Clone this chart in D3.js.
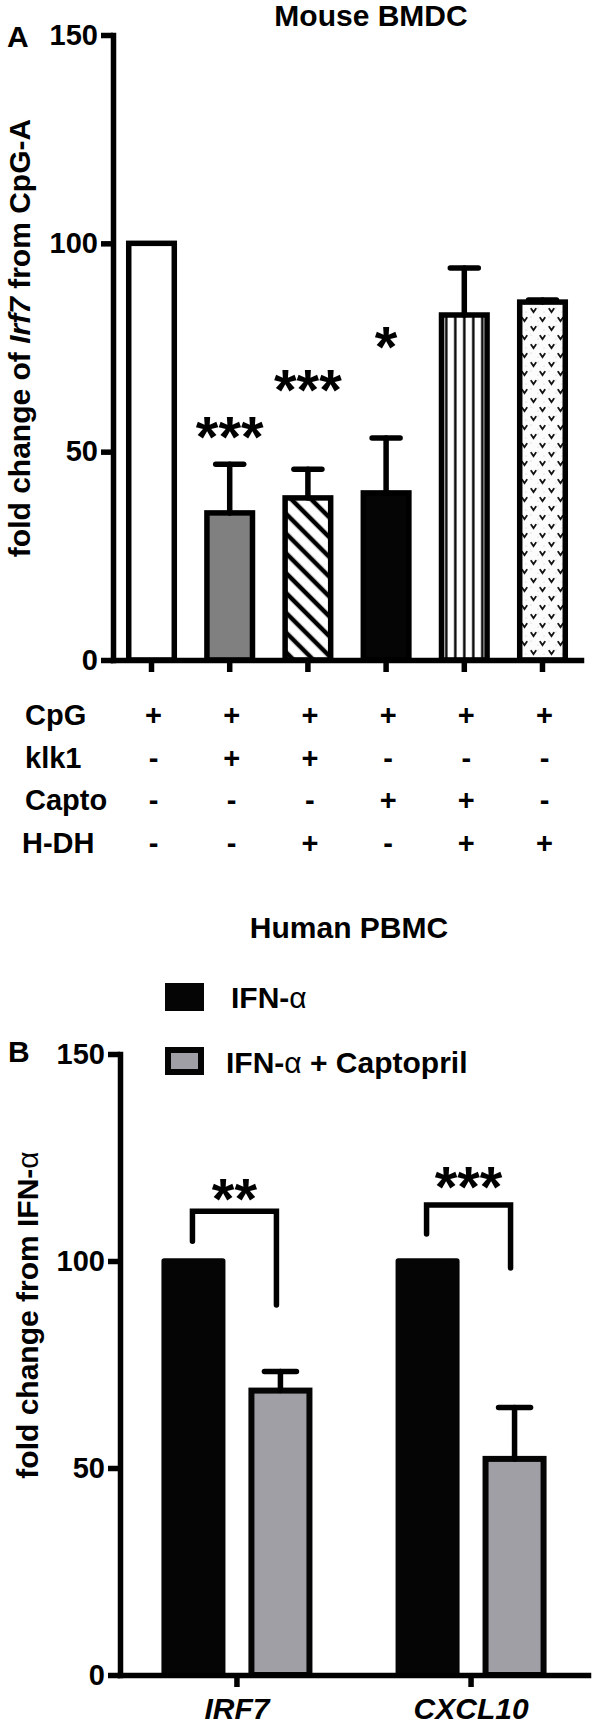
<!DOCTYPE html>
<html>
<head>
<meta charset="utf-8">
<script src="https://cdn.jsdelivr.net/npm/d3@7"></script>
<style>
body { margin: 0; background: #fff; }
svg { display: block; font-family: "Liberation Sans", Arial, sans-serif; font-weight: bold; }
</style>
</head>
<body>
<svg id="chart"></svg>
<script>
// panel A: mouse BMDC
let conditionsA = ["CpG", "CpG+klk1", "CpG+klk1+H-DH", "CpG+Capto", "CpG+Capto+H-DH", "CpG+H-DH"];
let meansA = [100, 35.3, 38.9, 40.1, 82.8, 85.9];
let semA = [0, 11.7, 6.9, 13.2, 11.3, 0.5];
let starsA = ["", "***", "***", "*", "", ""];
let starLevelA = [0, 56.4, 67.7, 78, 0, 0];
let ticksA = [0, 50, 100, 150];
let rowLabels = ["CpG", "klk1", "Capto", "H-DH"];
let tableSigns = [
    ["+", "+", "+", "+", "+", "+"],
    ["-", "+", "+", "-", "-", "-"],
    ["-", "-", "-", "+", "+", "-"],
    ["-", "-", "+", "-", "+", "+"]
];

// panel B: human PBMC
let genes = ["IRF7", "CXCL10"];
let groupsB = ["IFN-α", "IFN-α + Captopril"];
let ifnMeans = [100, 100];
let captoMeans = [68.7, 52.2];
let captoSem = [4.6, 12.4];
let ticksB = [0, 50, 100, 150];
let bracketTop = [112, 113.5];
let bracketLeft = [104.8, 106.5];
let bracketRight = [89.4, 98.3];
let starsB = ["**", "***"];
let starLevelB = [118, 120.8];

let width = 592;
let height = 1726;
let sw = 5.5;
let starSize = 58;
let svg = d3.select("#chart").attr("width", width).attr("height", height);
let defs = svg.append("defs");

let fillsA = ["#ffffff", "#808080", "url(#hatchDiag)", "#050505", "url(#hatchVert)", "url(#dotsV)"];

let xA, yA, xB0, xB1, yB;

let generateScales = () => {
    xA = d3.scaleBand().domain(conditionsA).range([113, 581]).paddingInner(0.347).paddingOuter(0.166);
    yA = d3.scaleLinear().domain([0, 150]).range([660, 35]);
    xB0 = d3.scaleBand().domain(genes).range([120, 588]).paddingInner(0.355).paddingOuter(0.177);
    xB1 = d3.scaleBand().domain(groupsB).range([0, xB0.bandwidth()]).paddingInner(0.264);
    yB = d3.scaleLinear().domain([0, 150]).range([1675, 1054]);
}

let drawPatterns = () => {
    let diag = defs.append("pattern").attr("id", "hatchDiag")
        .attr("patternUnits", "userSpaceOnUse").attr("width", 14).attr("height", 14)
        .attr("patternTransform", "rotate(-45)");
    diag.append("rect").attr("width", 14).attr("height", 14).attr("fill", "#fff");
    diag.append("line").attr("x1", 7).attr("x2", 7).attr("y1", -1).attr("y2", 15)
        .attr("stroke", "#000").attr("stroke-width", 4.5);

    let cx5 = xA(conditionsA[4]) + xA.bandwidth() / 2;
    let vert = defs.append("pattern").attr("id", "hatchVert")
        .attr("patternUnits", "userSpaceOnUse").attr("x", cx5 - 4.5).attr("width", 9).attr("height", 10);
    vert.append("rect").attr("width", 9).attr("height", 10).attr("fill", "#fff");
    vert.append("line").attr("x1", 4.5).attr("x2", 4.5).attr("y1", -1).attr("y2", 11)
        .attr("stroke", "#000").attr("stroke-width", 2.4);

    let cx6 = xA(conditionsA[5]) + xA.bandwidth() / 2;
    let dots = defs.append("pattern").attr("id", "dotsV")
        .attr("patternUnits", "userSpaceOnUse").attr("x", cx6 - 13.5).attr("width", 18).attr("height", 18);
    dots.append("rect").attr("width", 18).attr("height", 18).attr("fill", "#fcfcfc");
    [[4.5, 4.5], [13.5, 13.5]].forEach(p => {
        dots.append("path")
            .attr("d", `M${p[0] - 2.3},${p[1] - 1.7}L${p[0]},${p[1] + 1.7}L${p[0] + 2.3},${p[1] - 1.7}`)
            .attr("fill", "none").attr("stroke", "#111").attr("stroke-width", 1.8)
            .attr("stroke-linecap", "round");
    });
    [[9, 2], [2, 11], [15, 6], [9, 15]].forEach(p => {
        dots.append("circle").attr("cx", p[0]).attr("cy", p[1]).attr("r", 0.6).attr("fill", "#c4c4c4");
    });
}

let styleAxis = (g, fontSize) => {
    g.select(".domain").attr("stroke-width", sw).attr("stroke-linecap", "square");
    g.selectAll(".tick line").attr("stroke-width", sw);
    g.selectAll(".tick text").attr("font-size", fontSize).attr("fill", "#000")
        .attr("font-family", "Liberation Sans, Arial, sans-serif").attr("font-weight", "bold");
}

let drawPanelA = () => {
    svg.append("text").attr("x", 371).attr("y", 26).attr("text-anchor", "middle")
        .attr("font-size", 30).text("Mouse BMDC");
    svg.append("text").attr("x", 7).attr("y", 47).attr("font-size", 30).text("A");

    let bw = xA.bandwidth();
    svg.append("g").selectAll("rect").data(conditionsA).join("rect")
        .attr("x", d => xA(d) + sw / 2)
        .attr("width", bw - sw)
        .attr("y", (d, i) => yA(meansA[i]))
        .attr("height", (d, i) => yA(0) - yA(meansA[i]))
        .attr("fill", (d, i) => fillsA[i])
        .attr("stroke", "#000").attr("stroke-width", sw);

    let err = svg.append("g").attr("stroke", "#000").attr("stroke-width", sw).attr("stroke-linecap", "round");
    conditionsA.forEach((d, i) => {
        if (semA[i] <= 0) return;
        let cx = xA(d) + bw / 2;
        err.append("line").attr("x1", cx).attr("x2", cx)
            .attr("y1", yA(meansA[i])).attr("y2", yA(meansA[i] + semA[i]));
        err.append("line").attr("x1", cx - 14).attr("x2", cx + 14)
            .attr("y1", yA(meansA[i] + semA[i])).attr("y2", yA(meansA[i] + semA[i]));
    });

    svg.append("g").selectAll("text").data(conditionsA).join("text")
        .attr("x", d => xA(d) + bw / 2)
        .attr("y", (d, i) => yA(starLevelA[i]) + starSize * 0.56)
        .attr("text-anchor", "middle").attr("font-size", starSize)
        .text((d, i) => starsA[i]);

    let yAxis = d3.axisLeft(yA).tickValues(ticksA).tickSize(12).tickSizeOuter(0).tickPadding(3);
    svg.append("g").attr("transform", "translate(113,0)").call(yAxis).call(g => styleAxis(g, 29));

    let xAxis = d3.axisBottom(xA).tickSize(12).tickSizeOuter(0).tickFormat("");
    svg.append("g").attr("transform", "translate(0,660)").call(xAxis).call(g => styleAxis(g, 29));

    let lab = svg.append("text").attr("transform", "translate(30,338) rotate(-90)")
        .attr("text-anchor", "middle").attr("font-size", 30);
    lab.append("tspan").text("fold change of ");
    lab.append("tspan").attr("font-style", "italic").text("Irf7");
    lab.append("tspan").text(" from CpG-A");

    let rowY = d3.scalePoint().domain(rowLabels).range([725, 853]);
    let table = svg.append("g").attr("font-size", 29);
    rowLabels.forEach((r, ri) => {
        table.append("text").attr("x", r === "H-DH" ? 22 : 25).attr("y", rowY(r)).text(r);
        conditionsA.forEach((c, ci) => {
            table.append("text").attr("x", xA(c) + bw / 2 + 2).attr("y", rowY(r))
                .attr("text-anchor", "middle").text(tableSigns[ri][ci]);
        });
    });
}

let drawPanelB = () => {
    svg.append("text").attr("x", 349).attr("y", 938).attr("text-anchor", "middle")
        .attr("font-size", 30).text("Human PBMC");
    svg.append("text").attr("x", 8).attr("y", 1062).attr("font-size", 30).text("B");

    // legend
    svg.append("rect").attr("x", 165).attr("y", 983).attr("width", 39).attr("height", 28).attr("fill", "#050505");
    svg.append("rect").attr("x", 168).attr("y", 1050).attr("width", 33).attr("height", 22)
        .attr("fill", "#a09fa6").attr("stroke", "#050505").attr("stroke-width", 6);
    let l1 = svg.append("text").attr("x", 231).attr("y", 1008).attr("font-size", 30);
    l1.append("tspan").text("IFN-");
    l1.append("tspan").attr("font-weight", "normal").text("α");
    let l2 = svg.append("text").attr("x", 226).attr("y", 1073).attr("font-size", 30);
    l2.append("tspan").text("IFN-");
    l2.append("tspan").attr("font-weight", "normal").text("α");
    l2.append("tspan").text(" + Captopril");

    let bw = xB1.bandwidth();
    let blackX = g => xB0(g) + xB1(groupsB[0]);
    let greyX = g => xB0(g) + xB1(groupsB[1]);

    svg.append("g").selectAll("rect").data(genes).join("rect")
        .attr("x", d => blackX(d) + sw / 2).attr("width", bw - sw)
        .attr("y", (d, i) => yB(ifnMeans[i])).attr("height", (d, i) => yB(0) - yB(ifnMeans[i]))
        .attr("fill", "#050505").attr("stroke", "#050505").attr("stroke-width", sw)
        .attr("stroke-linejoin", "round");

    svg.append("g").selectAll("rect").data(genes).join("rect")
        .attr("x", d => greyX(d) + 3).attr("width", bw - 6)
        .attr("y", (d, i) => yB(captoMeans[i])).attr("height", (d, i) => yB(0) - yB(captoMeans[i]))
        .attr("fill", "#a09fa6").attr("stroke", "#050505").attr("stroke-width", 6);

    let err = svg.append("g").attr("stroke", "#000").attr("stroke-width", sw).attr("stroke-linecap", "round");
    genes.forEach((g, i) => {
        let cx = greyX(g) + bw / 2;
        err.append("line").attr("x1", cx).attr("x2", cx)
            .attr("y1", yB(captoMeans[i])).attr("y2", yB(captoMeans[i] + captoSem[i]));
        err.append("line").attr("x1", cx - 16).attr("x2", cx + 16)
            .attr("y1", yB(captoMeans[i] + captoSem[i])).attr("y2", yB(captoMeans[i] + captoSem[i]));
    });

    let bracket = d3.line();
    genes.forEach((g, i) => {
        let x1 = blackX(g) + bw / 2 - 1;
        let x2 = greyX(g) + bw / 2 - 4;
        svg.append("path")
            .attr("d", bracket([[x1, yB(bracketLeft[i])], [x1, yB(bracketTop[i])],
                                [x2, yB(bracketTop[i])], [x2, yB(bracketRight[i])]]))
            .attr("fill", "none").attr("stroke", "#000").attr("stroke-width", sw)
            .attr("stroke-linecap", "round");
        svg.append("text").attr("x", (x1 + x2) / 2).attr("y", yB(starLevelB[i]) + starSize * 0.56)
            .attr("text-anchor", "middle").attr("font-size", starSize).text(starsB[i]);
    });

    let yAxis = d3.axisLeft(yB).tickValues(ticksB).tickSize(12).tickSizeOuter(0).tickPadding(3);
    svg.append("g").attr("transform", "translate(120,0)").call(yAxis).call(g => styleAxis(g, 29));

    let xAxis = d3.axisBottom(xB0).tickSize(12).tickSizeOuter(0).tickPadding(11);
    svg.append("g").attr("transform", "translate(0,1675)").call(xAxis)
        .call(g => styleAxis(g, 30))
        .call(g => g.selectAll(".tick text").attr("font-style", "italic"));

    let lab = svg.append("text").attr("transform", "translate(38,1315) rotate(-90)")
        .attr("text-anchor", "middle").attr("font-size", 30);
    lab.append("tspan").text("fold change from IFN-");
    lab.append("tspan").attr("font-weight", "normal").text("α");
}

generateScales();
drawPatterns();
drawPanelA();
drawPanelB();
</script>
</body>
</html>
